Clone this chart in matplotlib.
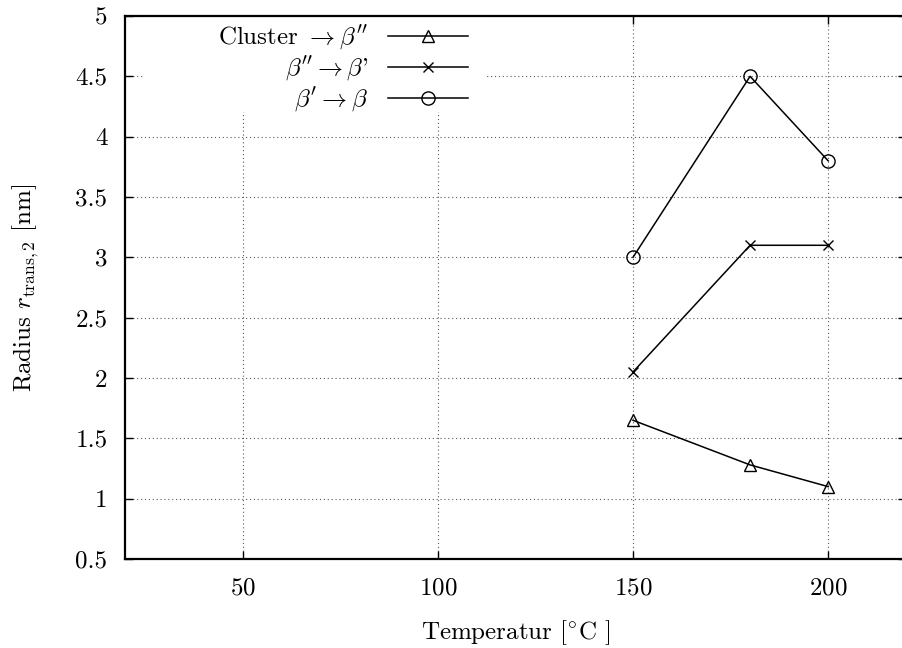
import matplotlib
matplotlib.use("Agg")
import matplotlib.pyplot as plt
from matplotlib.patches import Rectangle

# Transition radii versus ageing temperature
temperature = [150, 180, 200]
cluster_to_b2 = [1.65, 1.28, 1.10]
b2_to_b1 = [2.05, 3.10, 3.10]
b1_to_b = [3.00, 4.50, 3.80]

labels = [r"Cluster $\rightarrow \beta''$",
          r"$\beta'' \rightarrow \beta$'",
          r"$\beta' \rightarrow \beta$"]
x_ticks = [50, 100, 150, 200]
y_ticks = [0.5, 1, 1.5, 2, 2.5, 3, 3.5, 4, 4.5, 5]

FS = 18
plt.rcParams.update({
    "font.family": "serif",
    "font.serif": ["cmr10", "DejaVu Serif"],
    "mathtext.fontset": "cm",
    "axes.formatter.use_mathtext": True,
    "font.size": FS,
})

fig = plt.figure(figsize=(9.02, 6.48), dpi=100)
ax = fig.add_axes([0.1391, 0.1373, 0.8656, 0.8380])

style = dict(color="black", lw=1.1, markerfacecolor="none",
             markeredgecolor="black", markeredgewidth=1.0)
ax.plot(temperature, cluster_to_b2, marker="^", markersize=9, label=labels[0], **style)
ax.plot(temperature, b2_to_b1, marker="x", markersize=6.5, label=labels[1], **style)
ax.plot(temperature, b1_to_b, marker="o", markersize=9.5, label=labels[2], **style)

ax.set_xlim(20, 220)
ax.set_ylim(0.5, 5)
ax.set_xticks(x_ticks)
ax.set_yticks(y_ticks)
ax.set_yticklabels([f"{v:g}" for v in y_ticks])
ax.tick_params(direction="in", length=6, width=1.0, top=True, right=True,
               labelsize=FS)
ax.tick_params(axis="y", pad=13)
ax.tick_params(axis="x", pad=13)
for s in ax.spines.values():
    s.set_linewidth(1.6)

ax.grid(True, color="0.35", lw=0.8, linestyle=(0, (1, 2.5)))
ax.set_axisbelow(True)

ax.set_xlabel(r"Temperatur [$^{\circ}$C ]", labelpad=14)
ax.set_ylabel(r"Radius $r_{\mathrm{trans},2}$ [nm]", labelpad=25)

# white key box masking the grid behind the legend
ax.add_patch(Rectangle((0.022, 0.823), 0.438, 0.177, transform=ax.transAxes,
                       facecolor="white", edgecolor="none", zorder=1.5))

leg = ax.legend(loc="upper right", bbox_to_anchor=(0.4385, 0.986),
                markerfirst=False, frameon=False,
                handlelength=3.2, handletextpad=0.8, labelspacing=0.1,
                borderpad=0.0, borderaxespad=0.0, fontsize=FS)

fig.savefig("out.png", dpi=100)
